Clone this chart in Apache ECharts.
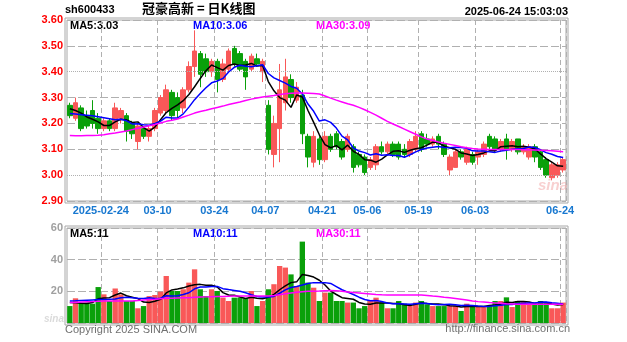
<!DOCTYPE html>
<html>
<head>
<meta charset="utf-8">
<script src="https://cdn.jsdelivr.net/npm/echarts@6/dist/echarts.min.js"></script>
<style>html,body{margin:0;padding:0;background:#fff;}#c{width:627px;height:342px;}</style>
</head>
<body>
<div id="c"></div>
<script>
const dates = [
'2025-02-14','2025-02-17','2025-02-18','2025-02-19','2025-02-20','2025-02-21','2025-02-24','2025-02-25','2025-02-26','2025-02-27',
'2025-02-28','2025-03-03','2025-03-04','2025-03-05','2025-03-06','2025-03-07','2025-03-10','2025-03-11','2025-03-12','2025-03-13',
'2025-03-14','2025-03-17','2025-03-18','2025-03-19','2025-03-20','2025-03-21','2025-03-24','2025-03-25','2025-03-26','2025-03-27',
'2025-03-28','2025-03-31','2025-04-01','2025-04-02','2025-04-03','2025-04-07','2025-04-08','2025-04-09','2025-04-10','2025-04-11',
'2025-04-14','2025-04-15','2025-04-16','2025-04-17','2025-04-18','2025-04-21','2025-04-22','2025-04-23','2025-04-24','2025-04-25',
'2025-04-28','2025-04-29','2025-04-30','2025-05-06','2025-05-07','2025-05-08','2025-05-09','2025-05-12','2025-05-13','2025-05-14',
'2025-05-15','2025-05-16','2025-05-19','2025-05-20','2025-05-21','2025-05-22','2025-05-23','2025-05-26','2025-05-27','2025-05-28',
'2025-05-29','2025-05-30','2025-06-03','2025-06-04','2025-06-05','2025-06-06','2025-06-09','2025-06-10','2025-06-11','2025-06-12',
'2025-06-13','2025-06-16','2025-06-17','2025-06-18','2025-06-19','2025-06-20','2025-06-23','2025-06-24'];

const tickDates = ['2025-02-24','2025-03-10','2025-03-24','2025-04-07','2025-04-21','2025-05-06','2025-05-19','2025-06-03','2025-06-24'];
const tickLabels = ['2025-02-24','03-10','03-24','04-07','04-21','05-06','05-19','06-03','06-24'];

const open = [3.27,3.22,3.26,3.23,3.25,3.22,3.18,3.21,3.18,3.22,
3.23,3.20,3.13,3.18,3.15,3.18,3.24,3.25,3.32,3.30,
3.26,3.33,3.42,3.47,3.45,3.40,3.44,3.37,3.41,3.49,
3.47,3.44,3.41,3.45,3.40,3.27,3.08,3.18,3.28,3.37,
3.29,3.31,3.15,3.05,3.14,3.06,3.15,3.16,3.13,3.10,
3.11,3.08,3.07,3.03,3.04,3.11,3.09,3.12,3.12,3.10,
3.08,3.10,3.16,3.14,3.12,3.15,3.12,3.02,3.03,3.09,
3.05,3.08,3.07,3.08,3.15,3.14,3.10,3.14,3.10,3.14,
3.09,3.07,3.11,3.09,3.06,2.99,3.00,3.02];
const close = [3.23,3.28,3.18,3.19,3.20,3.18,3.21,3.18,3.26,3.25,
3.17,3.16,3.19,3.15,3.18,3.25,3.30,3.33,3.23,3.25,
3.33,3.42,3.48,3.39,3.40,3.44,3.37,3.43,3.48,3.43,
3.41,3.38,3.46,3.43,3.44,3.10,3.20,3.33,3.38,3.30,
3.34,3.16,3.07,3.15,3.06,3.15,3.10,3.11,3.07,3.15,
3.03,3.04,3.01,3.06,3.11,3.09,3.12,3.08,3.07,3.08,
3.13,3.15,3.10,3.12,3.14,3.12,3.08,3.07,3.09,3.07,
3.10,3.05,3.09,3.12,3.11,3.10,3.13,3.10,3.13,3.09,
3.11,3.11,3.07,3.03,3.00,3.04,3.04,3.06];
const high = [3.28,3.30,3.27,3.25,3.29,3.24,3.22,3.22,3.28,3.26,
3.24,3.21,3.20,3.19,3.19,3.26,3.31,3.35,3.33,3.32,
3.34,3.44,3.56,3.48,3.47,3.45,3.45,3.45,3.49,3.50,
3.48,3.45,3.47,3.47,3.45,3.29,3.23,3.43,3.45,3.39,
3.36,3.33,3.16,3.17,3.15,3.17,3.16,3.17,3.14,3.16,
3.12,3.09,3.08,3.07,3.12,3.13,3.13,3.13,3.13,3.12,
3.14,3.17,3.17,3.16,3.15,3.16,3.13,3.08,3.10,3.10,
3.11,3.09,3.10,3.13,3.16,3.15,3.14,3.16,3.14,3.14,
3.12,3.12,3.12,3.10,3.07,3.05,3.05,3.07];
const low = [3.22,3.21,3.17,3.18,3.18,3.16,3.17,3.17,3.17,3.20,
3.13,3.14,3.10,3.14,3.13,3.17,3.23,3.24,3.21,3.22,
3.24,3.32,3.38,3.34,3.38,3.38,3.32,3.36,3.40,3.42,
3.40,3.33,3.40,3.42,3.36,3.08,3.03,3.05,3.25,3.28,
3.28,3.12,3.03,3.03,3.04,3.05,3.09,3.10,3.06,3.09,
3.01,3.03,3.00,3.02,3.02,3.08,3.08,3.07,3.06,3.07,
3.07,3.09,3.09,3.11,3.11,3.10,3.07,3.00,3.03,3.06,
3.04,3.04,3.04,3.07,3.10,3.09,3.09,3.06,3.09,3.08,
3.08,3.06,3.05,3.02,2.99,2.98,2.99,3.01];

const ma5 = [3.257,3.25,3.24,3.225,3.216,3.206,3.192,3.192,3.206,3.216,
3.214,3.204,3.206,3.184,3.17,3.186,3.214,3.242,3.258,3.272,
3.288,3.312,3.342,3.374,3.404,3.426,3.416,3.406,3.424,3.43,
3.424,3.426,3.432,3.422,3.424,3.362,3.326,3.30,3.29,3.262,
3.31,3.302,3.25,3.204,3.156,3.118,3.106,3.114,3.098,3.116,
3.092,3.08,3.06,3.058,3.05,3.062,3.078,3.092,3.094,3.088,
3.096,3.102,3.106,3.116,3.128,3.126,3.112,3.106,3.10,3.086,
3.082,3.076,3.08,3.086,3.094,3.094,3.11,3.112,3.114,3.11,
3.112,3.108,3.102,3.082,3.064,3.05,3.036,3.034];
const ma10 = [3.238,3.236,3.234,3.232,3.23,3.226,3.222,3.218,3.214,3.216,
3.21,3.198,3.199,3.195,3.193,3.20,3.209,3.224,3.221,3.221,
3.237,3.263,3.292,3.316,3.338,3.357,3.364,3.374,3.399,3.417,
3.425,3.421,3.419,3.423,3.427,3.393,3.376,3.366,3.356,3.343,
3.336,3.314,3.275,3.247,3.209,3.214,3.204,3.182,3.151,3.136,
3.105,3.093,3.087,3.078,3.083,3.077,3.079,3.076,3.076,3.069,
3.079,3.09,3.099,3.105,3.108,3.111,3.107,3.106,3.108,3.107,
3.104,3.094,3.093,3.093,3.09,3.088,3.093,3.096,3.10,3.102,
3.103,3.109,3.107,3.098,3.087,3.081,3.072,3.068];
const ma30 = [3.153,3.152,3.152,3.153,3.153,3.154,3.156,3.160,3.163,3.167,
3.171,3.176,3.181,3.186,3.191,3.196,3.202,3.208,3.212,3.217,
3.225,3.232,3.240,3.246,3.251,3.257,3.262,3.267,3.273,3.278,
3.283,3.289,3.294,3.298,3.302,3.305,3.308,3.312,3.315,3.317,
3.318,3.318,3.317,3.316,3.314,3.306,3.298,3.290,3.283,3.276,
3.270,3.262,3.253,3.243,3.232,3.220,3.208,3.198,3.188,3.178,
3.168,3.158,3.148,3.140,3.134,3.128,3.123,3.119,3.115,3.110,
3.106,3.103,3.101,3.100,3.099,3.099,3.099,3.099,3.099,3.099,
3.098,3.098,3.097,3.096,3.095,3.094,3.092,3.090];

const volume = [10.7,15.6,12.9,12.9,12.2,22.7,18.1,13.9,21.8,18.1,
13.9,13.9,9.3,10.7,17.0,17.7,19.8,29.7,20.2,20.2,
21.3,25.5,33.9,21.3,17.0,21.3,20.2,16.0,13.9,16.0,
16.0,15.6,20.2,10.7,13.9,21.3,24.5,36.0,35.0,30.7,
23.4,51.4,25.5,22.3,13.9,19.2,19.2,13.9,13.9,12.9,
12.9,9.3,10.7,13.9,16.0,12.9,9.3,9.3,13.9,12.2,
10.7,12.9,13.9,11.8,10.7,10.7,10.7,10.7,10.7,7.6,
12.2,10.7,10.7,10.7,10.7,13.9,13.9,16.2,10.1,13.9,
13.9,12.2,11.8,13.9,12.9,9.3,9.3,12.9];
const vma5 = [13.0,12.8,12.5,12.3,12.9,15.3,15.8,16.0,17.7,18.9,
17.2,16.3,15.4,13.2,13.0,13.7,14.9,19.0,20.9,21.5,
22.2,23.4,24.2,24.4,23.8,23.8,22.7,19.2,17.7,17.5,
16.4,15.5,16.3,15.7,15.3,16.3,18.1,21.0,23.4,25.5,
26.0,30.7,30.0,29.0,27.0,24.0,20.2,18.0,16.0,15.5,
15.0,13.0,12.0,11.9,12.6,12.6,12.6,12.3,12.3,11.5,
11.1,11.8,12.7,12.3,12.0,12.0,11.6,10.9,10.7,10.1,
10.4,10.4,10.4,10.4,11.0,11.3,12.0,13.1,13.0,13.6,
13.6,13.3,12.4,13.1,12.9,12.0,11.4,11.7];
const vma10 = [13.9,14.0,14.2,14.4,14.6,14.8,14.9,15.0,15.2,15.9,
16.2,16.0,15.7,15.5,15.9,15.4,15.6,17.2,17.0,17.2,
18.0,19.1,21.6,22.7,22.7,23.0,23.1,21.7,21.1,20.6,
20.1,19.1,17.8,16.7,16.4,16.4,16.8,18.8,20.9,22.4,
23.1,24.0,25.0,25.5,25.5,25.5,25.0,23.0,21.0,19.5,
18.0,16.3,14.8,14.0,14.2,13.6,12.6,12.1,12.1,12.0,
11.8,12.2,12.5,12.3,11.8,11.5,11.7,11.8,11.5,11.0,
11.2,11.0,10.7,10.5,10.5,10.9,11.2,11.7,11.7,12.3,
12.5,12.6,12.7,13.1,13.3,12.8,12.4,12.0];
const vma30 = [12.9,13.0,13.2,13.4,13.5,13.7,13.9,13.9,13.9,13.9,
13.9,13.9,14.2,14.5,14.8,15.0,15.3,15.6,15.7,15.8,
15.9,16.0,16.2,16.4,16.5,16.6,16.7,16.8,16.9,17.0,
17.0,17.0,17.0,17.0,17.0,17.0,17.4,17.9,18.4,18.9,
19.4,19.8,20.0,20.1,20.2,20.4,20.6,20.3,20.0,19.6,
19.2,18.9,18.6,18.3,18.0,17.8,17.7,17.7,17.7,17.7,
17.7,17.7,17.7,17.4,17.0,16.7,16.3,16.0,15.5,15.0,
14.5,13.9,13.5,13.2,12.9,12.7,12.5,12.2,12.0,11.8,
11.8,11.8,11.8,11.8,11.8,11.8,11.8,11.8];

const priceTicks = [2.90,3.00,3.10,3.20,3.30,3.40,3.50,3.60];
const volTicks = [0,20,40,60];
const priceLegend = ['MA5:3.03','MA10:3.06','MA30:3.09'];
const volLegend = ['MA5:11','MA10:11','MA30:11'];
const stockCode = 'sh600433';
const titleText = '冠豪高新 = 日K线图';
const timeText = '2025-06-24 15:03:03';
const copyText = 'Copyright 2025 SINA.COM';
const urlText = 'http://finance.sina.com.cn';

const UP = '#f95858', DOWN = '#0aa00a';
const GRIDC = '#b0b0b0';
const tickIdx = tickDates.map(d => dates.indexOf(d));
const isTick = (i) => tickIdx.indexOf(i) >= 0;

const kData = dates.map((d, i) => [open[i], close[i], low[i], high[i]]);
const vData = volume.map((v, i) => ({value: v, itemStyle: {color: close[i] >= open[i] ? UP : DOWN}}));

const chart = echarts.init(document.getElementById('c'), null, {renderer: 'canvas'});
const F = 'Liberation Sans, Arial, sans-serif';

function lineS(data, color, xi, yi) {
  return {type: 'line', data: data, xAxisIndex: xi, yAxisIndex: yi, symbol: 'none', silent: true,
    lineStyle: {color: color, width: 1.5}, z: 5};
}

const option = {
  animation: false,
  backgroundColor: '#ffffff',
  grid: [
    {left: 67, top: 20, width: 499, height: 181, show: true, borderColor: '#a8a8a8', borderWidth: 1, backgroundColor: 'transparent'},
    {left: 67, top: 228, width: 499, height: 95, show: true, borderColor: '#a8a8a8', borderWidth: 1, backgroundColor: 'transparent'}
  ],
  xAxis: [
    {type: 'category', gridIndex: 0, data: dates, boundaryGap: true,
     axisLine: {show: false}, axisTick: {show: false},
     axisLabel: {show: true, interval: (i) => isTick(i), margin: 4, padding: [0, 6, 0, 0],
       color: '#1878d0', fontWeight: 'bold', fontSize: 11, fontFamily: F,
       formatter: (v) => { const k = tickDates.indexOf(v); return k >= 0 ? tickLabels[k] : ''; }},
     splitLine: {show: true, interval: (i) => isTick(i), lineStyle: {color: GRIDC, type: [5, 3], width: 1}}},
    {type: 'category', gridIndex: 1, data: dates, boundaryGap: true,
     axisLine: {show: false}, axisTick: {show: false}, axisLabel: {show: false},
     splitLine: {show: true, interval: (i) => isTick(i), lineStyle: {color: GRIDC, type: [5, 3], width: 1}}}
  ],
  yAxis: [
    {type: 'value', gridIndex: 0, min: priceTicks[0], max: priceTicks[priceTicks.length - 1], interval: 0.1, scale: true,
     axisLine: {show: false}, axisTick: {show: false},
     axisLabel: {color: '#ff0000', fontWeight: 'bold', fontSize: 11, fontFamily: F, margin: 4, formatter: (v) => v.toFixed(2)},
     splitLine: {show: true, lineStyle: {color: [GRIDC, 'rgba(0,0,0,0)', GRIDC, GRIDC, GRIDC, 'rgba(0,0,0,0)', GRIDC, GRIDC], type: [8, 3], width: 1}}},
    {type: 'value', gridIndex: 1, min: volTicks[0], max: volTicks[volTicks.length - 1], interval: 20,
     axisLine: {show: false}, axisTick: {show: false},
     axisLabel: {color: '#a0a0a0', fontWeight: 'bold', fontSize: 11, fontFamily: F, margin: 4, formatter: (v) => v === 0 ? '' : String(v)},
     splitLine: {show: true, lineStyle: {color: GRIDC, type: [8, 3], width: 1}}}
  ],
  series: [
    {type: 'candlestick', xAxisIndex: 0, yAxisIndex: 0, data: kData, barWidth: 5, silent: true,
     itemStyle: {color: UP, color0: DOWN, borderColor: UP, borderColor0: DOWN, borderWidth: 1},
     markLine: {silent: true, symbol: 'none', label: {show: false}, animation: false,
       lineStyle: {color: GRIDC, type: 'dotted', width: 1},
       data: [{yAxis: 3.40}, {yAxis: 3.00}]}},
    lineS(ma5, '#000000', 0, 0),
    lineS(ma10, '#0000ff', 0, 0),
    lineS(ma30, '#ff00ff', 0, 0),
    {type: 'bar', xAxisIndex: 1, yAxisIndex: 1, data: vData, barCategoryGap: '6%', silent: true},
    lineS(vma5, '#000000', 1, 1),
    lineS(vma10, '#0000ff', 1, 1),
    lineS(vma30, '#ff00ff', 1, 1)
  ],
  graphic: [
    {type: 'rect', silent: true, shape: {x: 65, y: 18, width: 503, height: 185}, style: {fill: 'none', stroke: '#a8a8a8', lineWidth: 1}},
    {type: 'rect', silent: true, shape: {x: 65, y: 226, width: 503, height: 99}, style: {fill: 'none', stroke: '#a8a8a8', lineWidth: 1}},
    {type: 'text', silent: true, left: 65, top: 4, style: {text: stockCode, fill: '#000', font: 'bold 11px ' + F}},
    {type: 'text', silent: true, left: 142, top: 2, style: {text: titleText, fill: '#000', font: 'bold 13px "Noto Sans CJK SC", sans-serif'}},
    {type: 'text', silent: true, right: 59, top: 6, style: {text: timeText, fill: '#000', font: 'bold 11px ' + F}},
    {type: 'text', silent: true, left: 70, top: 20, style: {text: priceLegend[0], fill: '#000000', font: 'bold 11px ' + F}},
    {type: 'text', silent: true, left: 193, top: 20, style: {text: priceLegend[1], fill: '#0000ff', font: 'bold 11px ' + F}},
    {type: 'text', silent: true, left: 316, top: 20, style: {text: priceLegend[2], fill: '#ff00ff', font: 'bold 11px ' + F}},
    {type: 'text', silent: true, left: 70, top: 228, style: {text: volLegend[0], fill: '#000000', font: 'bold 11px ' + F}},
    {type: 'text', silent: true, left: 193, top: 228, style: {text: volLegend[1], fill: '#0000ff', font: 'bold 11px ' + F}},
    {type: 'text', silent: true, left: 316, top: 228, style: {text: volLegend[2], fill: '#ff00ff', font: 'bold 11px ' + F}},
    {type: 'text', silent: true, left: 65, top: 324, style: {text: copyText, fill: '#707070', font: '11px ' + F}},
    {type: 'text', silent: true, right: 57, top: 323, style: {text: urlText, fill: '#707070', font: '11px ' + F}},
    {type: 'text', silent: true, left: 538, top: 178, style: {text: 'sina', fill: 'rgba(240,150,150,0.45)', font: 'italic bold 15px ' + F}},
    {type: 'text', silent: true, left: 44, top: 314, style: {text: 'sina', fill: 'rgba(150,150,150,0.35)', font: 'italic bold 10px ' + F}}
  ]
};
chart.setOption(option);
</script>
</body>
</html>
